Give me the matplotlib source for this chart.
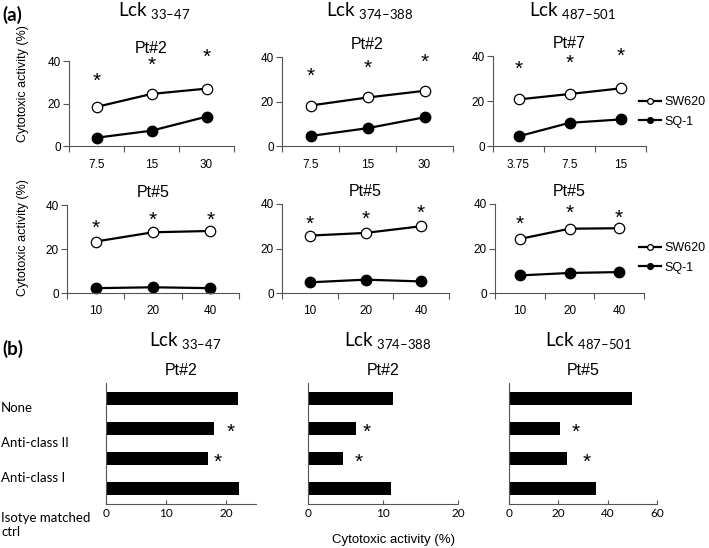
import matplotlib
matplotlib.use("Agg")
import matplotlib.pyplot as plt
from matplotlib.ticker import NullFormatter

plt.rcParams['font.family'] = ['Liberation Sans', 'DejaVu Sans']
plt.rcParams['mathtext.fontset'] = 'custom'
plt.rcParams['mathtext.rm'] = 'Lato'

W, H = 709, 548

# ---- data: panel (a) ----
peptides = ["33–47", "374–388", "487–501"]
top_patients = ["Pt#2", "Pt#2", "Pt#7"]
top_x = [["7.5", "15", "30"], ["7.5", "15", "30"], ["3.75", "7.5", "15"]]
top_sw620 = [[18.4, 24.5, 27.0], [18.2, 21.8, 24.8], [20.7, 23.1, 25.6]]
top_sq1 = [[3.9, 7.2, 13.8], [4.5, 8.0, 12.9], [4.3, 10.3, 11.8]]
top_star = [[30.6, 38.1, 41.9], [31.5, 35.0, 37.5], [33.9, 36.8, 39.7]]

bot_patients = ["Pt#5", "Pt#5", "Pt#5"]
bot_x = [["10", "20", "40"], ["10", "20", "40"], ["10", "20", "40"]]
bot_sw620 = [[23.4, 27.6, 28.2], [25.8, 27.0, 30.0], [24.3, 28.9, 29.1]]
bot_sq1 = [[2.2, 2.6, 2.2], [4.8, 6.0, 5.2], [7.9, 9.0, 9.4]]
bot_star = [[29.4, 33.2, 33.2], [30.7, 33.0, 35.7], [30.7, 36.0, 33.7]]

# ---- data: panel (b) ----
treatments = ["None", "Anti-class II", "Anti-class I", "Isotye matched\nctrl"]
b_patients = ["Pt#2", "Pt#2", "Pt#5"]
b_values = [[22.0, 18.0, 17.0, 22.2], [11.3, 6.4, 4.7, 11.1], [50.0, 20.8, 23.6, 35.2]]
b_star_x = [[None, 20.8, 18.6, None], [None, 7.8, 6.7, None], [None, 27.0, 31.6, None]]
b_xmax = [25, 20, 60]
b_xticks = [[0, 10, 20], [0, 10, 20], [0, 20, 40, 60]]


def box(l, t, r, b):
    return [l / W, 1 - b / H, (r - l) / W, (b - t) / H]


def lck_title(x, y, pep):
    fig.text(x / W, 1 - y / H, r"Lck$_{\mathrm{\ " + pep + r"}}$", ha='center', va='baseline',
             fontsize=13.5, fontfamily='Lato')


fig = plt.figure(figsize=(W / 100, H / 100), dpi=100)

top_boxes = [box(69, 61, 234, 146), box(282, 57, 453, 146), box(493, 56, 646, 146)]
bot_boxes = [box(67, 205, 239, 293), box(282, 204, 449, 293), box(495, 204, 644, 293)]


def line_panel(rect, xl, sw, sq, stars, pt):
    ax = fig.add_axes(rect)
    pos = [0.5, 1.5, 2.5]
    ax.plot(pos, sw, color='black', lw=1.6, marker='o', ms=7.5, mfc='white',
            mec='black', mew=0.9, label='SW620', clip_on=False)
    ax.plot(pos, sq, color='black', lw=1.6, marker='o', ms=7.5, mfc='black',
            mec='black', label='SQ-1', clip_on=False)
    for p, s in zip(pos, stars):
        ax.text(p, s, "*", ha='center', va='center', fontsize=15)
    ax.set_xlim(0, 3)
    ax.set_ylim(0, 40)
    ax.set_yticks([0, 20, 40])
    ax.set_xticks([0, 1, 2, 3])
    ax.xaxis.set_major_formatter(NullFormatter())
    ax.set_xticks(pos, minor=True)
    ax.set_xticklabels(xl, minor=True)
    ax.tick_params(axis='x', which='minor', length=0, pad=9, labelsize=8.5)
    ax.tick_params(axis='x', which='major', length=4, width=0.8, color='#555555')
    ax.tick_params(axis='y', length=4, width=0.8, pad=2, labelsize=8.5, color='#555555')
    for side in ['top', 'right']:
        ax.spines[side].set_visible(False)
    for side in ['left', 'bottom']:
        ax.spines[side].set_color('#555555')
        ax.spines[side].set_linewidth(0.8)
    ax.set_title(pt, fontsize=11.5, pad=6)
    return ax


def add_legend(ax, top):
    ax.legend(loc='upper left', bbox_to_anchor=(633 / W, 1 - top / H),
              bbox_transform=fig.transFigure, frameon=False, fontsize=9,
              markerscale=0.55, handlelength=1.7, handletextpad=0.3,
              labelspacing=0.6, borderpad=0)


for i in range(3):
    ax = line_panel(top_boxes[i], top_x[i], top_sw620[i], top_sq1[i], top_star[i], top_patients[i])
    if i == 2:
        add_legend(ax, 90)
for i in range(3):
    ax = line_panel(bot_boxes[i], bot_x[i], bot_sw620[i], bot_sq1[i], bot_star[i], bot_patients[i])
    if i == 2:
        add_legend(ax, 236)

for x, pep in zip([154, 370, 572], peptides):
    lck_title(x, 17, pep)

fig.text(23 / W, 1 - 84 / H, "Cytotoxic activity (%)", rotation=90, ha='center', va='center', fontsize=9)
fig.text(23 / W, 1 - 238 / H, "Cytotoxic activity (%)", rotation=90, ha='center', va='center', fontsize=9)
fig.text(2 / W, 1 - 21 / H, "(a)", fontsize=13.5, fontweight='bold', fontfamily='Lato')

# ---- panel (b) ----
bar_boxes = [box(106, 383, 256, 504), box(308, 383, 458, 504), box(509, 383, 657, 504)]
for i in range(3):
    ax = fig.add_axes(bar_boxes[i])
    ypos = list(range(len(treatments)))
    ax.barh(ypos, b_values[i], height=0.43, color='black')
    for y, sx in zip(ypos, b_star_x[i]):
        if sx is not None:
            ax.text(sx, y + 0.12, "*", ha='center', va='center', fontsize=15)
    ax.set_xlim(0, b_xmax[i])
    ax.set_ylim(3.5, -0.5)
    ax.set_yticks([])
    ax.set_xticks(b_xticks[i])
    ax.tick_params(axis='x', direction='in', length=3, width=0.8, pad=3, labelsize=8.5,
                   color='#555555')
    for lab in ax.get_xticklabels():
        lab.set_fontfamily('Lato')
    for side in ['top', 'right']:
        ax.spines[side].set_visible(False)
    for side in ['left', 'bottom']:
        ax.spines[side].set_color('#555555')
        ax.spines[side].set_linewidth(0.8)
    ax.set_title(b_patients[i], fontsize=11.5, pad=6)

for x, pep in zip([185, 388, 588], peptides):
    lck_title(x, 347, pep)

label_y = [408, 443, 478, 512]
for t, y in zip(treatments, label_y):
    fig.text(1 / W, 1 - y / H, t, ha='left', va='top' if '\n' in t else 'center',
             fontsize=9.5, fontfamily='Lato', linespacing=1.25)

fig.text(2 / W, 1 - 355 / H, "(b)", fontsize=13.5, fontweight='bold', fontfamily='Lato')
fig.text(394 / W, 1 - 540 / H, "Cytotoxic activity (%)", ha='center', va='center', fontsize=9.5)

fig.savefig("out.png", dpi=100)
